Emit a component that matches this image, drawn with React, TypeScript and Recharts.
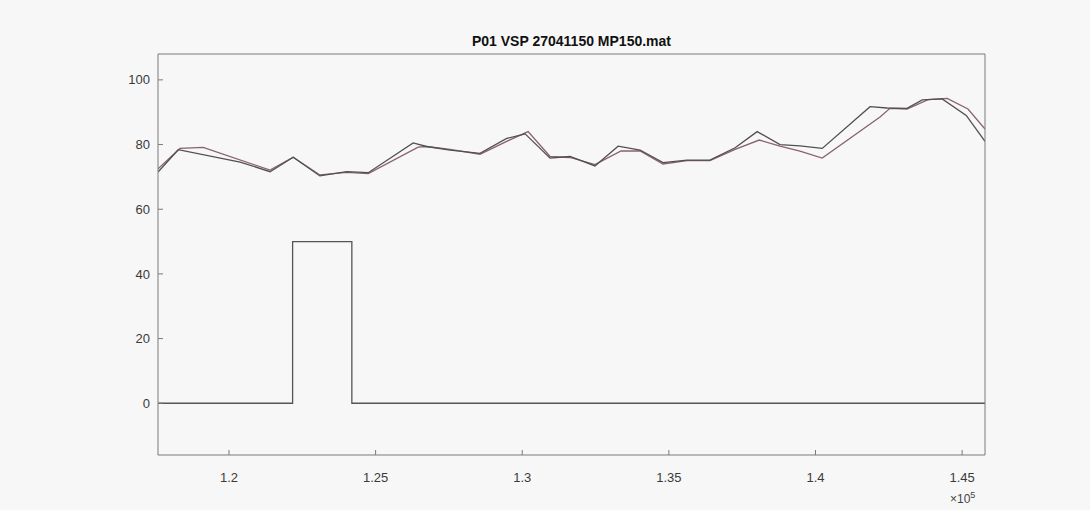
import { LineChart, Line, XAxis, YAxis } from 'recharts'

// sample position (raw units, axis shows /1e5) and values of the two traces
const traceAX = [117580, 118270, 120380, 121400, 122190, 123100, 124010, 124750, 126280, 126740, 127540, 128560, 129470, 130100, 130950, 131630, 132480, 133270, 134020, 134800, 135620, 136400, 137260, 138010, 138790, 139470, 140230, 141860, 142440, 143120, 143640, 144320, 145140, 145780]
const traceAY = [71.5, 78.4, 74.6, 71.6, 76.1, 70.3, 71.6, 71.3, 80.5, 79.4, 78.3, 77.3, 81.9, 83.3, 75.8, 76.3, 73.4, 79.5, 78.3, 74.4, 75.2, 75.2, 79.0, 84.0, 80.0, 79.6, 78.8, 91.7, 91.3, 91.2, 93.8, 94.1, 89.0, 81.0]

const traceBX = [117580, 118330, 119120, 121400, 122190, 123100, 124010, 124750, 126450, 126740, 127540, 128560, 129470, 130200, 130950, 131630, 132480, 133370, 134020, 134800, 135620, 136400, 137260, 138080, 138790, 139470, 140230, 142200, 142540, 143120, 143840, 144490, 145200, 145780]
const traceBY = [72.5, 78.8, 79.1, 72.1, 76.1, 70.6, 71.4, 71.0, 79.2, 79.4, 78.5, 77.0, 81.0, 84.0, 76.3, 76.0, 73.8, 78.0, 78.0, 74.0, 75.0, 75.0, 78.5, 81.4, 79.5, 78.0, 75.8, 88.5, 91.2, 91.0, 93.9, 94.3, 91.0, 84.8]

// marker pulse
const pulseX = [117580, 122170, 122170, 124190, 124190, 145780]
const pulseY = [0, 0, 50, 50, 0, 0]

const xTicks = [120000, 125000, 130000, 135000, 140000, 145000]
const yTicks = [0, 20, 40, 60, 80, 100]
const title = 'P01 VSP 27041150 MP150.mat'

const zip = (xs: number[], ys: number[]) => xs.map((x, i) => ({ x, y: ys[i] }))

const axisColor = '#7a7a7a'
const tickFont = { fontSize: 13, fill: '#3a3a3a', fontFamily: 'Liberation Sans, Arial, sans-serif' }
const noLabel = () => ''

export default function App() {
  return (
    <div style={{ position: 'relative', width: 1090, height: 510, background: '#f7f7f7' }}>
      <style>{`body{margin:0}`}</style>
      <div
        style={{
          position: 'absolute',
          left: 158,
          width: 827,
          top: 33,
          textAlign: 'center',
          fontFamily: 'Liberation Sans, Arial, sans-serif',
          fontWeight: 'bold',
          fontSize: 14,
          color: '#111',
        }}
      >
        {title}
      </div>
      <LineChart width={1090} height={510} margin={{ top: 24, right: 75, bottom: 25, left: 108 }}>
        <XAxis
          xAxisId="b"
          type="number"
          dataKey="x"
          domain={[117580, 145780]}
          allowDataOverflow
          ticks={xTicks}
          tickFormatter={(v: number) => String(v / 100000)}
          stroke={axisColor}
          tickSize={-5}
          tickMargin={23}
          tick={tickFont}
          height={30}
        />
        <XAxis
          xAxisId="t"
          orientation="top"
          type="number"
          domain={[117580, 145780]}
          ticks={xTicks}
          stroke={axisColor}
          tickSize={-5}
          tickFormatter={noLabel}
          height={30}
        />
        <YAxis
          yAxisId="l"
          type="number"
          domain={[-16, 108]}
          allowDataOverflow
          ticks={yTicks}
          stroke={axisColor}
          tickSize={-5}
          tickMargin={13}
          tick={tickFont}
          width={50}
        />
        <YAxis
          yAxisId="r"
          orientation="right"
          type="number"
          domain={[-16, 108]}
          ticks={yTicks}
          stroke={axisColor}
          tickSize={-5}
          tickFormatter={noLabel}
          width={30}
        />
        <Line
          xAxisId="b"
          yAxisId="l"
          data={zip(pulseX, pulseY)}
          dataKey="y"
          type="linear"
          stroke="#555"
          strokeWidth={1.3}
          dot={false}
          isAnimationActive={false}
        />
        <Line
          xAxisId="b"
          yAxisId="l"
          data={zip(traceBX, traceBY)}
          dataKey="y"
          type="linear"
          stroke="#8a6074"
          strokeWidth={1.3}
          dot={false}
          isAnimationActive={false}
        />
        <Line
          xAxisId="b"
          yAxisId="l"
          data={zip(traceAX, traceAY)}
          dataKey="y"
          type="linear"
          stroke="#505050"
          strokeWidth={1.3}
          dot={false}
          isAnimationActive={false}
        />
      </LineChart>
      <div
        style={{
          position: 'absolute',
          left: 950,
          top: 490,
          fontFamily: 'Liberation Sans, Arial, sans-serif',
          fontSize: 12,
          color: '#444',
        }}
      >
        ×10<sup style={{ fontSize: 9 }}>5</sup>
      </div>
    </div>
  )
}
